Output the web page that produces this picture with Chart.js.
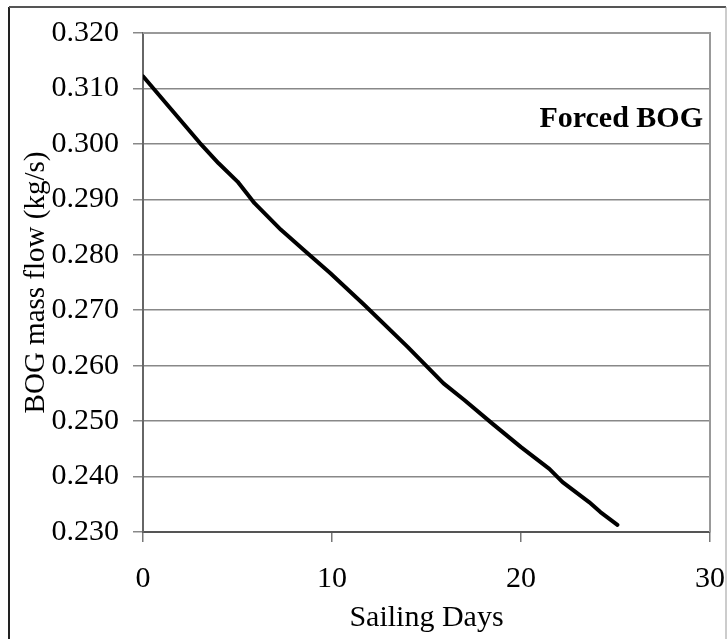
<!DOCTYPE html>
<html>
<head>
<meta charset="utf-8">
<title>Forced BOG mass flow</title>
<script src="https://cdn.jsdelivr.net/npm/chart.js@4/dist/chart.umd.min.js"></script>
<style>
  html, body { margin: 0; padding: 0; background: #fff; }
  #wrap { width: 727px; height: 639px; position: relative; }
</style>
</head>
<body>
<div id="wrap"><canvas id="chart" width="727" height="639"></canvas></div>
<script>
// Sailing day and the boil-off gas mass flow at that day (kg/s)
const sailingDays = [0, 1.5, 3.0, 4.0, 5.0, 5.9, 7.3, 8.6, 9.9, 11.7, 14.0, 15.9, 17.0, 18.5, 20.0, 21.5, 22.2, 23.6, 24.2, 25.1];
const bogMassFlow = [0.3122, 0.3062, 0.3002, 0.2965, 0.2932, 0.2893, 0.2845, 0.2806, 0.2767, 0.2710, 0.2634, 0.2568, 0.2538, 0.2495, 0.2453, 0.2414, 0.2390, 0.2354, 0.2336, 0.2313];
const seriesLabel = 'Forced BOG';
const xTitle = 'Sailing Days';
const yTitle = 'BOG mass flow (kg/s)';

const SERIF = '"Liberation Serif", "Times New Roman", serif';

const points = sailingDays.map((d, i) => ({ x: d, y: bogMassFlow[i] }));

// Page frame, plot frame and the in-plot series caption
const decorations = {
  id: 'decorations',
  beforeDraw(chart) {
    const ctx = chart.ctx;
    ctx.save();
    ctx.fillStyle = '#fff';
    ctx.fillRect(0, 0, chart.width, chart.height);
    // outer frame (left, top, right)
    ctx.lineWidth = 2;
    ctx.strokeStyle = '#222';
    ctx.beginPath(); ctx.moveTo(9, chart.height); ctx.lineTo(9, 7); ctx.stroke();
    ctx.strokeStyle = '#555';
    ctx.beginPath(); ctx.moveTo(9, 7); ctx.lineTo(726, 7); ctx.stroke();
    ctx.lineWidth = 1;
    ctx.strokeStyle = '#999';
    ctx.beginPath(); ctx.moveTo(726, 7); ctx.lineTo(726, chart.height); ctx.stroke();
    ctx.restore();
  },
  afterDraw(chart) {
    const { ctx, chartArea: a } = chart;
    const yScale = chart.scales.y;
    ctx.save();
    ctx.strokeStyle = '#999';
    ctx.lineWidth = 2;
    ctx.beginPath();
    ctx.moveTo(a.left, a.top);
    ctx.lineTo(a.right, a.top);
    ctx.lineTo(a.right, a.bottom);
    ctx.stroke();
    ctx.fillStyle = '#000';
    ctx.font = 'bold 30px ' + SERIF;
    ctx.textAlign = 'right';
    ctx.textBaseline = 'middle';
    ctx.fillText(seriesLabel, a.right - 7, yScale.getPixelForValue(0.3044));
    ctx.restore();
  }
};

new Chart(document.getElementById('chart'), {
  type: 'line',
  data: {
    datasets: [{
      label: seriesLabel,
      data: points,
      borderColor: '#000',
      borderWidth: 4,
      borderCapStyle: 'round',
      borderJoinStyle: 'round',
      pointRadius: 0,
      tension: 0,
      fill: false
    }]
  },
  options: {
    responsive: false,
    animation: false,
    layout: { padding: { left: 12, top: 33, right: 17, bottom: 0 } },
    plugins: { legend: { display: false }, tooltip: { enabled: false } },
    scales: {
      x: {
        type: 'linear',
        min: 0, max: 30,
        afterFit(scale) {
          scale.height = 107;
          scale.paddingLeft = 0;
          scale.paddingRight = 0;
        },
        ticks: {
          stepSize: 10,
          color: '#000',
          font: { family: SERIF, size: 30 },
          padding: 19,
          maxRotation: 0
        },
        grid: { drawOnChartArea: false, drawTicks: true, tickLength: 10, color: '#777', lineWidth: 1.5 },
        border: { color: '#555', width: 2 },
        title: {
          display: true,
          text: xTitle,
          color: '#000',
          font: { family: SERIF, size: 30 },
          padding: { top: 0, bottom: 3 }
        }
      },
      y: {
        min: 0.23, max: 0.32,
        afterFit(scale) { scale.width = 131; },
        ticks: {
          stepSize: 0.01,
          color: '#000',
          font: { family: SERIF, size: 30 },
          padding: 14,
          callback: (v) => Number(v).toFixed(3)
        },
        grid: { drawOnChartArea: true, drawTicks: true, tickLength: 10, color: '#888', lineWidth: 1.5 },
        border: { color: '#666', width: 2 },
        title: {
          display: true,
          text: yTitle,
          color: '#000',
          font: { family: SERIF, size: 29 },
          padding: { top: 7, bottom: 0 }
        }
      }
    }
  },
  plugins: [decorations]
});
</script>
</body>
</html>
